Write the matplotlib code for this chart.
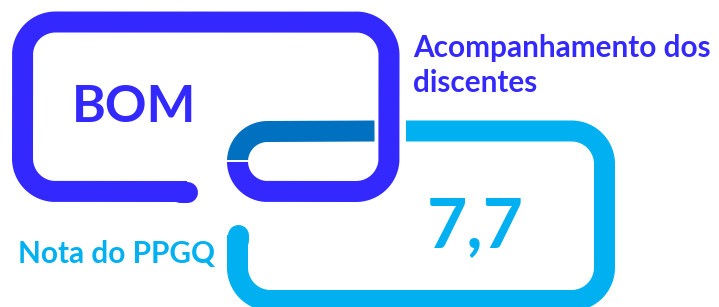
import numpy as np
import matplotlib
matplotlib.use("Agg")
import matplotlib.pyplot as plt

# ---- content ----
rating_label = "BOM"
topic_lines = ["Acompanhamento dos", "discentes"]
score_value = "7,7"
score_label = "Nota do PPGQ"

DARK = "#3329FF"
MID = "#0070C0"
LIGHT = "#00B0F0"

W, H = 719, 307
fig = plt.figure(figsize=(W / 100, H / 100), dpi=100)
ax = fig.add_axes([0, 0, 1, 1])
ax.set_xlim(0, W)
ax.set_ylim(H, 0)
ax.axis("off")

LW = 21 * 0.72  # stroke width in points


def arc(cx, cy, r, a0, a1, n=40):
    a = np.radians(np.linspace(a0, a1, n))
    return list(zip(cx + r * np.cos(a), cy + r * np.sin(a)))


def draw(pts, color, cap="butt", z=2):
    p = np.array(pts)
    ax.plot(p[:, 0], p[:, 1], color=color, lw=LW, solid_capstyle=cap,
            solid_joinstyle="round", zorder=z)


# dark link geometry (centerline)
L, T, R, B = 22.5, 22, 389, 191.5
r = 33
hook_x, hook_r = 267.5, 30
dark = [(187, B), (L + r, B)]
dark += arc(L + r, B - r, r, 90, 180)
dark += arc(L + r, T + r, r, 180, 270)
dark += arc(R - r, T + r, r, 270, 360)
dark += arc(R - r, B - r, r, 0, 90)
dark += arc(hook_x, B - hook_r, hook_r, 90, 180)
draw(dark, DARK, z=3)
draw([(180, B), (187, B)], DARK, cap="round", z=3)

# light link geometry
L2, T2, R2, B2 = 237.5, 131, 604.5, 300.5
r2 = 33
light = [(L2, 235)]
light += arc(L2 + r2, B2 - r2, r2, 180, 90)
light += arc(R2 - r2, B2 - r2, r2, 90, 0)
light += arc(R2 - r2, T2 + r2, r2, 0, -90)
light += [(406, T2)]
draw(light, LIGHT, z=2)
draw([(L2, 240), (L2, 235)], LIGHT, cap="round", z=2)

# overlap piece
mid = arc(hook_x, B - hook_r, hook_r, 180, 270) + [(374.5, T2)]
draw(mid, MID, z=2)
ax.plot([222, 253], [161.3, 161.3], color="white", lw=1.4, zorder=4)

# texts
FONT = "Lato"
SMALL = 21.4
ax.text(72, 122, rating_label, color=DARK, fontsize=37.2, fontweight="bold",
        family=FONT, ha="left", va="baseline")
ax.text(413, 57, topic_lines[0], color=DARK, fontsize=SMALL, fontweight="bold",
        family=FONT, ha="left", va="baseline")
ax.text(413, 92, topic_lines[1], color=DARK, fontsize=SMALL, fontweight="bold",
        family=FONT, ha="left", va="baseline")
ax.text(427, 247, score_value, color=LIGHT, fontsize=50, fontweight="bold",
        family=FONT, ha="left", va="baseline")
ax.text(18, 263, score_label, color=LIGHT, fontsize=SMALL, fontweight="bold",
        family=FONT, ha="left", va="baseline")

fig.savefig("out.png", dpi=100, facecolor="white")
